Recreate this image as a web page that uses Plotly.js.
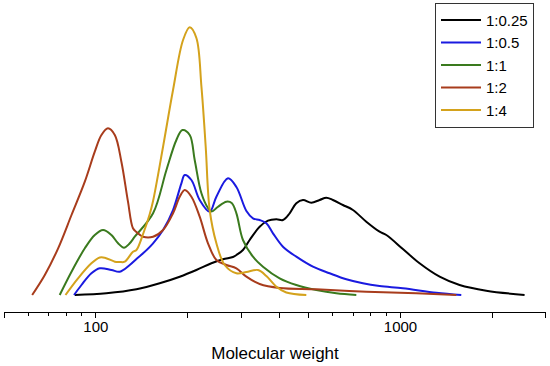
<!DOCTYPE html>
<html>
<head>
<meta charset="utf-8">
<script src="https://cdn.plot.ly/plotly-3.0.1.min.js"></script>
<style>html,body{margin:0;padding:0;background:#fff;}#chart{width:550px;height:366px;}</style>
</head>
<body>
<div id="chart"></div>
<script>
// Series names
const seriesNames = ["1:0.25", "1:0.5", "1:1", "1:2", "1:4"];
const seriesColors = ["#000000", "#1a1ae0", "#3a7a1e", "#a83c1c", "#d4a21c"];

// 1:0.25
const mw_025 = [85.3, 108.3, 135.9, 162.0, 188.5, 213.8, 239.5, 261.4, 281.9, 289.3, 304.0, 319.8, 344.9, 367.3, 391.3, 411.3, 432.6, 455.0, 478.4, 509.6, 542.6, 570.8, 600.0, 647.1, 697.9, 772.2, 853.7, 898.3, 1018, 1155, 1344, 1563, 1912, 2554];
const int_025 = [1, 2.7, 6.7, 12.7, 19.3, 26, 32.7, 36.7, 39, 41, 46, 56, 69.3, 75.3, 76.7, 76, 82.7, 92.7, 96, 93.3, 96, 98.3, 96, 91, 86, 74.3, 64.3, 61, 47, 32.7, 19.3, 11, 5.3, 1];

// 1:0.5
const mw_05 = [84.8, 89.7, 96.7, 103.0, 112.5, 119.8, 129.2, 135.9, 142.9, 154.1, 166.2, 179.2, 190.9, 195.8, 205.9, 219.2, 236.4, 248.7, 271.5, 289.3, 312.0, 327.9, 344.9, 362.8, 381.4, 411.3, 455.0, 515.9, 585.2, 664.0, 752.5, 853.7, 1018, 1311, 1583];
const int_05 = [1, 11, 22.7, 27.7, 26, 24.3, 31, 37, 42.7, 52.7, 66, 86, 112.7, 121, 116, 96, 84.3, 99.3, 117.7, 109, 85, 77.7, 76, 72.7, 62.7, 49.3, 39.3, 29.3, 22.7, 16.7, 12.7, 10, 7.7, 3.3, 1];

// 1:1
const mw_1 = [76.1, 83.2, 92.0, 99.2, 105.6, 112.5, 118.3, 123.7, 129.2, 134.2, 154.1, 170.5, 183.8, 192.4, 203.3, 211.1, 222.1, 233.4, 240.0, 251.2, 268.2, 279.2, 289.3, 304.0, 327.9, 353.7, 401.1, 455.0, 529.3, 615.7, 716.1];
const int_1 = [1, 24.3, 47.7, 61, 66, 61, 52.7, 48.3, 52.7, 59.3, 82.7, 126, 156, 166, 161, 136, 102.7, 88, 84.5, 89, 94.3, 93, 82.7, 56, 39.3, 29.3, 17.7, 11, 6, 2.7, 1];

// 1:2
const mw_2 = [61.8, 68.0, 75.2, 83.2, 92.0, 99.2, 104.3, 109.6, 115.4, 121.3, 127.5, 132.4, 135.9, 142.9, 154.1, 166.2, 179.2, 188.5, 195.8, 205.9, 219.2, 233.4, 248.7, 268.2, 289.3, 312.0, 344.9, 401.1, 529.3, 772.2, 1127, 1525];
const int_2 = [1, 21, 47.7, 81, 114.3, 144.3, 161, 167.7, 161, 134.3, 94.3, 67.7, 64, 59.3, 59.3, 66, 82.7, 99.3, 106, 99.3, 79.3, 52.7, 36, 31, 27.7, 19.3, 12, 8, 6.7, 4.3, 2.7, 1];

// 1:4
const mw_4 = [79.5, 87.4, 96.7, 103.0, 107.0, 115.4, 119.8, 124.4, 132.4, 135.9, 142.9, 150.3, 154.1, 166.2, 179.2, 193.3, 203.3, 213.8, 222.1, 229.4, 236.4, 248.7, 264.8, 289.3, 312.0, 340.6, 362.8, 391.3, 421.9, 490.7];
const int_4 = [1, 17.7, 32.7, 38.5, 38.3, 34.3, 34, 34.3, 44.3, 46, 62, 82, 95, 149.3, 206, 256, 268.7, 258, 209.3, 149.3, 86, 52.7, 31, 22.7, 24, 26, 20, 9.3, 3.5, 1];

// Axis ticks
const majorTicks = [50, 100, 200, 300, 400, 500, 1000, 2000, 3000];
const majorLabels = ["", "100", "", "", "", "", "1000", "", ""];
const minorTicks = [60, 70, 80, 90, 600, 700, 800, 900];

const xs = [mw_025, mw_05, mw_1, mw_2, mw_4];
const ys = [int_025, int_05, int_1, int_2, int_4];

const traces = seriesNames.map((name, i) => ({
  type: "scatter",
  mode: "lines",
  name: name,
  x: xs[i],
  y: ys[i],
  line: {color: seriesColors[i], width: 2, shape: "spline", smoothing: 1}
}));

const FONT = "Arial, 'Liberation Sans', sans-serif";

const layout = {
  width: 550,
  height: 366,
  margin: {l: 4, r: 4, t: 0, b: 54},
  paper_bgcolor: "#ffffff",
  plot_bgcolor: "#ffffff",
  showlegend: true,
  font: {family: FONT, color: "#000"},
  xaxis: {
    type: "log",
    range: [Math.log10(49.95), Math.log10(3003)],
    tickmode: "array",
    tickvals: majorTicks,
    ticktext: majorLabels,
    ticks: "outside",
    ticklen: 5,
    tickwidth: 1.2,
    tickcolor: "#000",
    showline: true,
    linecolor: "#000",
    linewidth: 1.3,
    showgrid: false,
    zeroline: false,
    automargin: false,
    ticklabelstandoff: -4,
    tickfont: {family: FONT, size: 15, color: "#000"},
    minor: {tickmode: "array", tickvals: minorTicks, ticks: "outside", ticklen: 3, tickwidth: 1, tickcolor: "#000", showgrid: false},
    title: {text: "Molecular weight", font: {family: FONT, size: 17, color: "#000"}, standoff: 12}
  },
  yaxis: {
    visible: false,
    range: [-16, 296],
    showgrid: false,
    zeroline: false
  },
  legend: {
    xref: "paper",
    yref: "paper",
    x: 0.7952,
    y: 0.9913,
    xanchor: "left",
    yanchor: "top",
    bordercolor: "#333",
    borderwidth: 1,
    bgcolor: "#fff",
    font: {family: FONT, size: 15, color: "#000"},
    itemwidth: 40
  }
};

Plotly.newPlot("chart", traces, layout, {displayModeBar: false, staticPlot: true});
</script>
</body>
</html>
